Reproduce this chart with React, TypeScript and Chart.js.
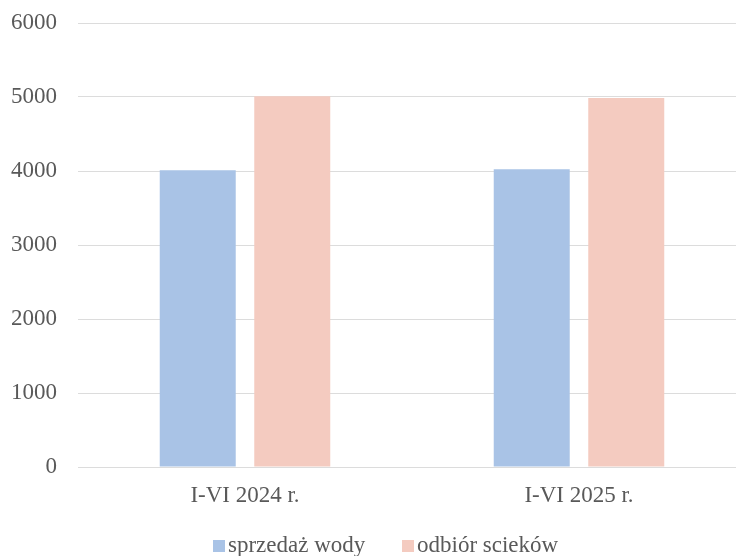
import React, { useEffect, useRef } from "react";
import { Chart, registerables } from "chart.js";

Chart.register(...registerables);

const categories = ["I-VI 2024 r.", "I-VI 2025 r."];
const seriesNames = ["sprzedaż wody", "odbiór scieków"];
const waterSales = [4010, 4025];
const sewageIntake = [5010, 4985];
const yTicks = [0, 1000, 2000, 3000, 4000, 5000, 6000];

const BLUE = "#a9c3e6";
const PINK = "#f4cbc0";
const TEXT = "#595959";
const GRID = "#dcdcdc";
const FONT = "'Liberation Serif', 'Times New Roman', serif";

export default function App() {
  const canvasRef = useRef<HTMLCanvasElement | null>(null);

  useEffect(() => {
    document.body.style.margin = "0";
    const ctx = canvasRef.current;
    if (!ctx) return;
    const chart = new Chart(ctx, {
      type: "bar",
      data: {
        labels: categories,
        datasets: [
          {
            label: seriesNames[0],
            data: waterSales,
            backgroundColor: BLUE,
            borderWidth: 0,
          },
          {
            label: seriesNames[1],
            data: sewageIntake,
            backgroundColor: PINK,
            borderWidth: 0,
          },
        ],
      },
      options: {
        animation: false,
        responsive: false,
        maintainAspectRatio: false,
        layout: { padding: { top: 23, right: 14, bottom: 46, left: 0 } },
        datasets: {
          bar: { categoryPercentage: 0.566, barPercentage: 0.804 },
        },
        plugins: {
          legend: { display: false },
          tooltip: { enabled: false },
        },
        scales: {
          x: {
            grid: { display: false, drawTicks: false },
            border: { display: false },
            ticks: {
              color: TEXT,
              font: { family: FONT, size: 23 },
              padding: 15,
            },
            afterFit: (s: any) => {
              s.height = 43;
              s.paddingLeft = 0;
              s.paddingRight = 0;
            },
          },
          y: {
            min: 0,
            max: 6000,
            afterBuildTicks: (s: any) => {
              s.ticks = yTicks.map((v) => ({ value: v }));
            },
            grid: { color: GRID, lineWidth: 1, drawTicks: false },
            border: { display: false },
            ticks: {
              color: TEXT,
              font: { family: FONT, size: 23 },
              padding: 21,
              callback: (v: any) => String(v),
            },
            afterFit: (s: any) => {
              s.width = 78;
              s.paddingTop = 0;
              s.paddingBottom = 0;
            },
          },
        },
      },
    });
    return () => chart.destroy();
  }, []);

  const legendText: React.CSSProperties = {
    fontFamily: FONT,
    fontSize: 23,
    color: TEXT,
    whiteSpace: "nowrap",
  };
  const box = (c: string): React.CSSProperties => ({
    display: "inline-block",
    width: 12,
    height: 12,
    background: c,
    marginRight: 3,
    verticalAlign: "baseline",
  });

  return (
    <div
      style={{
        position: "absolute",
        left: 0,
        top: 0,
        width: 736,
        height: 556,
        overflow: "hidden",
        background: "#ffffff",
      }}
    >
      <canvas ref={canvasRef} width={760} height={556} style={{ display: "block" }} />
      <div style={{ position: "absolute", left: 213, top: 532, ...legendText }}>
        <span style={box(BLUE)} />
        {seriesNames[0]}
      </div>
      <div style={{ position: "absolute", left: 402, top: 532, ...legendText }}>
        <span style={box(PINK)} />
        {seriesNames[1]}
      </div>
    </div>
  );
}
